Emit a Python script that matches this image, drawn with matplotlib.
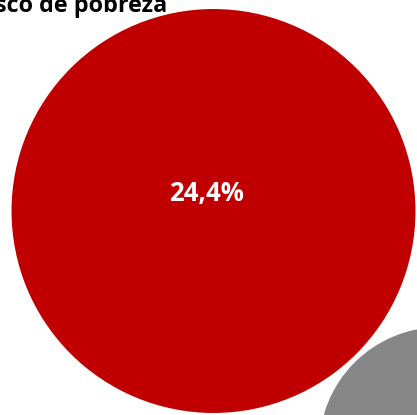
import matplotlib.pyplot as plt
import numpy as np
from matplotlib.patches import Circle

# bubble values (%), the first one carries the visible label
values = [24.4, 8.8]
value_labels = ["24,4%", ""]
colors = ["#C00000", "#878787"]
title = "Taxa de risco de pobreza"

# layout in pixel-like units of the canvas
width, height = 417, 415
centers = [(213.5, 211.0), (440.0, 448.0)]
radius_scale = 41.1


def main() -> None:
    fig = plt.figure(figsize=(width / 100, height / 100), dpi=100)
    ax = fig.add_axes([0, 0, 1, 1])
    ax.set_xlim(0, width)
    ax.set_ylim(height, 0)
    ax.set_aspect("equal")
    ax.axis("off")

    for (cx, cy), value, color, label in zip(centers, values, colors, value_labels):
        radius = radius_scale * np.sqrt(value)
        ax.add_patch(Circle((cx, cy), radius, facecolor=color, edgecolor="white", linewidth=1.5))
        if label:
            ax.text(cx - 7, cy - 18, label, ha="center", va="center", color="white",
                    fontsize=18.5, fontweight="bold", family="Open Sans")

    ax.text(167, 12.5, title, ha="right", va="baseline", color="black",
            fontsize=16.8, fontweight="bold", family="Open Sans")

    fig.savefig("out.png", dpi=100)


if __name__ == "__main__":
    main()
